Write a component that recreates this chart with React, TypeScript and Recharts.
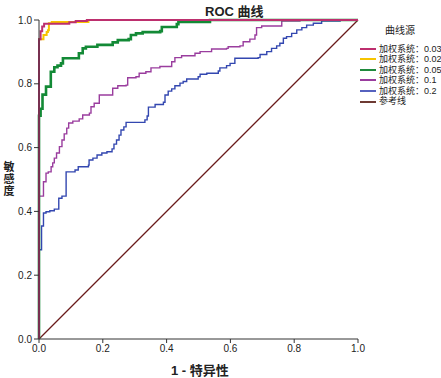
import { CartesianGrid, Line, LineChart, XAxis, YAxis } from "recharts";

// ROC points: [1 - specificity, sensitivity]
const W003: [number, number][] = [
  [0, 0], [0, 0.94], [0.005, 0.965], [0.01, 0.98], [0.016, 0.988],
  [0.095, 0.993], [0.115, 0.997], [0.15, 1], [1, 1],
];
const W002: [number, number][] = [
  [0, 0], [0, 0.94], [0.014, 0.953], [0.024, 0.962], [0.028, 0.968],
  [0.031, 0.99], [0.04, 0.994], [0.155, 1], [1, 1],
];
const W005: [number, number][] = [
  [0, 0], [0, 0.7], [0.005, 0.722], [0.011, 0.766], [0.022, 0.791],
  [0.037, 0.838], [0.048, 0.852], [0.058, 0.857], [0.069, 0.864],
  [0.075, 0.88], [0.125, 0.896], [0.137, 0.911], [0.147, 0.916],
  [0.183, 0.922], [0.231, 0.93], [0.247, 0.937], [0.281, 0.94],
  [0.288, 0.953], [0.304, 0.958], [0.325, 0.962], [0.38, 0.965],
  [0.385, 0.978], [0.432, 0.987], [0.437, 0.994], [0.536, 1], [1, 1],
];
const W01: [number, number][] = [
  [0, 0], [0, 0.448], [0.014, 0.493], [0.022, 0.52], [0.029, 0.524],
  [0.038, 0.54], [0.043, 0.552], [0.048, 0.567], [0.055, 0.583],
  [0.064, 0.603], [0.072, 0.624], [0.079, 0.643], [0.087, 0.661],
  [0.093, 0.677], [0.106, 0.683], [0.126, 0.69], [0.137, 0.702],
  [0.158, 0.708], [0.163, 0.728], [0.173, 0.739], [0.189, 0.765],
  [0.22, 0.765], [0.231, 0.786], [0.247, 0.794], [0.273, 0.796],
  [0.278, 0.819], [0.304, 0.822], [0.314, 0.833], [0.335, 0.838],
  [0.351, 0.85], [0.379, 0.854], [0.416, 0.869], [0.426, 0.882],
  [0.447, 0.888], [0.489, 0.896], [0.505, 0.901], [0.541, 0.909],
  [0.588, 0.911], [0.593, 0.916], [0.63, 0.919], [0.64, 0.932],
  [0.661, 0.94], [0.677, 0.953], [0.682, 0.976], [0.698, 0.981],
  [0.761, 0.981], [0.761, 0.997], [0.818, 1], [1, 1],
];
const W02: [number, number][] = [
  [0, 0], [0, 0.28], [0.008, 0.354], [0.014, 0.395], [0.022, 0.399],
  [0.034, 0.402], [0.048, 0.407], [0.062, 0.441], [0.072, 0.448],
  [0.085, 0.524], [0.113, 0.53], [0.123, 0.54], [0.155, 0.545],
  [0.157, 0.561], [0.169, 0.567], [0.182, 0.577], [0.197, 0.583],
  [0.213, 0.587], [0.229, 0.596], [0.235, 0.611], [0.243, 0.624],
  [0.251, 0.639], [0.257, 0.655], [0.266, 0.665], [0.273, 0.679],
  [0.332, 0.687], [0.339, 0.699], [0.343, 0.727], [0.364, 0.735],
  [0.39, 0.742], [0.395, 0.765], [0.405, 0.777], [0.416, 0.784],
  [0.426, 0.794], [0.442, 0.802], [0.452, 0.807], [0.463, 0.815],
  [0.499, 0.822], [0.505, 0.83], [0.526, 0.833], [0.562, 0.84],
  [0.567, 0.85], [0.588, 0.857], [0.599, 0.864], [0.614, 0.88],
  [0.687, 0.882], [0.693, 0.892], [0.714, 0.901], [0.729, 0.911],
  [0.745, 0.919], [0.755, 0.927], [0.766, 0.943], [0.776, 0.948],
  [0.792, 0.958], [0.808, 0.969], [0.824, 0.976], [0.839, 0.984],
  [0.86, 0.99], [0.886, 0.997], [0.944, 1], [1, 1],
];
const REF: [number, number][] = [[0, 0], [1, 1]];

const TICKS = [0, 0.2, 0.4, 0.6, 0.8, 1];

const SERIES = [
  { name: "加权系统：0.03", pts: W003, color: "#bd2f6e", width: 2, legend: "#bd2f6e" },
  { name: "加权系统：0.02", pts: W002, color: "#f7c400", width: 2, legend: "#f7c400" },
  { name: "加权系统：0.05", pts: W005, color: "#138a36", width: 2.6, legend: "#1f8a3c" },
  { name: "加权系统：0.1", pts: W01, color: "#9a3d9e", width: 1.4, legend: "#9a3d9e" },
  { name: "加权系统：0.2", pts: W02, color: "#3347b0", width: 1.4, legend: "#5662bf" },
  { name: "参考线", pts: REF, color: "#6a1b1b", width: 1.2, legend: "#6e3a33" },
];

const toRows = (pts: [number, number][]) => pts.map(([x, y]) => ({ x, y }));

const tickStyle = { fontSize: 10, fill: "#222", fontFamily: "Arial, 'Liberation Sans', sans-serif" };
const ROW = 10.6;

export default function App() {
  return (
    <div style={{ position: "absolute", left: 0, top: 0, width: 441, height: 378, background: "#fff" }}>
      <LineChart width={441} height={378} margin={{ top: 20, right: 83, bottom: 19, left: 9 }}>
        <CartesianGrid horizontal={false} vertical={false} />
        <XAxis
          type="number"
          dataKey="x"
          domain={[0, 1]}
          ticks={TICKS}
          tickFormatter={(v: number) => v.toFixed(1)}
          tick={tickStyle}
          tickSize={4}
          height={20}
          stroke="#333"
          allowDuplicatedCategory={false}
        />
        <YAxis
          type="number"
          dataKey="y"
          domain={[0, 1]}
          ticks={TICKS}
          tickFormatter={(v: number) => v.toFixed(1)}
          tick={tickStyle}
          tickSize={5}
          width={30}
          stroke="#333"
        />
        {SERIES.slice().reverse().map((s) => (
          <Line
            key={s.name}
            data={toRows(s.pts)}
            dataKey="y"
            type={s.pts.length > 2 ? "stepAfter" : "linear"}
            stroke={s.color}
            strokeWidth={s.width}
            dot={false}
            activeDot={false}
            isAnimationActive={false}
          />
        ))}
        {/* frame */}
        <XAxis xAxisId="top" orientation="top" type="number" domain={[0, 1]} tick={false} tickLine={false} height={0} stroke="#555" />
        <YAxis yAxisId="right" orientation="right" type="number" domain={[0, 1]} tick={false} tickLine={false} width={0} stroke="#555" />
      </LineChart>

      <div style={{ position: "absolute", left: 205, top: 1, fontFamily: "Arial, 'Noto Sans CJK SC', sans-serif", fontWeight: "bold", fontSize: 13, color: "#222", whiteSpace: "nowrap" }}>
        ROC 曲线
      </div>
      <div style={{ position: "absolute", left: 171, top: 360, fontFamily: "Arial, 'Noto Sans CJK SC', sans-serif", fontWeight: "bold", fontSize: 13, color: "#222", whiteSpace: "nowrap" }}>
        1 - 特异性
      </div>
      <div
        style={{ position: "absolute", left: 2, top: 161, writingMode: "vertical-rl", fontFamily: "'Noto Sans CJK SC', sans-serif", fontWeight: "bold", fontSize: 11, lineHeight: "14px", letterSpacing: 1, color: "#222" }}
      >
        敏感度
      </div>

      <div style={{ position: "absolute", left: 385, top: 24, fontFamily: "Arial, 'Noto Sans CJK SC', sans-serif", fontSize: 10, lineHeight: "14px", color: "#222" }}>
        曲线源
      </div>
      {SERIES.map((s, i) => (
        <span
          key={s.name}
          style={{ position: "absolute", left: 360, top: 47.5 + i * ROW, width: 16, height: 2, background: s.legend }}
        />
      ))}
      <div style={{ position: "absolute", left: 379, top: 43.5, fontFamily: "Arial, 'Noto Sans CJK SC', sans-serif", fontSize: 9, lineHeight: `${ROW}px`, color: "#222", whiteSpace: "nowrap" }}>
        {SERIES.map((s, i) => (
          <span key={s.name}>
            {i > 0 && <br />}
            {s.name}
          </span>
        ))}
      </div>
    </div>
  );
}
